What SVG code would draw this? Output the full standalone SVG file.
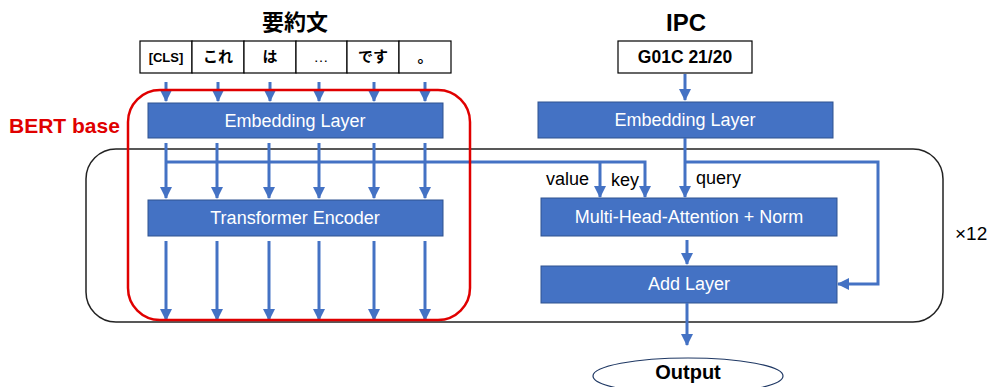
<svg xmlns="http://www.w3.org/2000/svg" width="991" height="387" viewBox="0 0 991 387">
<style>
.blk{fill:#4472C4;stroke:#2F528F;stroke-width:1}
.bt{font-family:"Liberation Sans",Arial,sans-serif;font-size:18px;fill:#fff;text-anchor:middle}
.ln{fill:none;stroke:#4472C4;stroke-width:3}
.tok{fill:#fff;stroke:#000;stroke-width:1.2}
.tt{font-family:"Liberation Sans","Noto Sans CJK JP",sans-serif;font-size:15px;font-weight:bold;fill:#000;text-anchor:middle}
.title{font-family:"Liberation Sans","Noto Sans CJK JP",sans-serif;font-size:22px;font-weight:bold;fill:#000;text-anchor:middle}
.lbl{font-family:"Liberation Sans",Arial,sans-serif;font-size:18px;fill:#000}
</style>
<defs>
<marker id="ah" markerUnits="userSpaceOnUse" markerWidth="12" markerHeight="12" viewBox="0 0 12 12" refX="11" refY="6" orient="auto">
<path d="M0,0 L12,6 L0,12 z" fill="#4472C4"/>
</marker>
</defs>

<g id="frame12">
<rect x="86" y="149" width="857" height="173" rx="30" ry="30" fill="none" stroke="#222" stroke-width="1.5"/>
<text class="lbl" x="955" y="240" style="font-size:19px">×12</text>
</g>

<g id="title-summary"><text class="title" x="295" y="30">要約文</text></g>
<g id="title-ipc"><text class="title" x="686" y="31" style="font-size:24px">IPC</text></g>

<g id="tokens">
<rect class="tok" x="140" y="41" width="52" height="32"/>
<rect class="tok" x="192" y="41" width="52" height="32"/>
<rect class="tok" x="244" y="41" width="52" height="32"/>
<rect class="tok" x="296" y="41" width="51" height="32"/>
<rect class="tok" x="347" y="41" width="52" height="32"/>
<rect class="tok" x="399" y="41" width="52" height="32"/>
<text class="tt" x="166" y="62" style="font-size:13px">[CLS]</text>
<text class="tt" x="218" y="62">これ</text>
<text class="tt" x="270" y="62">は</text>
<text class="tt" x="321" y="62" style="font-weight:normal">…</text>
<text class="tt" x="373" y="62">です</text>
<text class="tt" x="425" y="62">。</text>
</g>

<g id="ipc-code">
<rect class="tok" x="618" y="41" width="134" height="32"/>
<text class="tt" x="685" y="63" style="font-size:17.5px">G01C 21/20</text>
</g>

<g id="embed-left">
<rect class="blk" x="148" y="103" width="295" height="35"/>
<text class="bt" x="295" y="127">Embedding Layer</text>
</g>
<g id="encoder">
<rect class="blk" x="148" y="200" width="295" height="36"/>
<text class="bt" x="295" y="224">Transformer Encoder</text>
</g>
<g id="embed-right">
<rect class="blk" x="538" y="102" width="295" height="36"/>
<text class="bt" x="685" y="126">Embedding Layer</text>
</g>
<g id="mha">
<rect class="blk" x="541" y="198" width="296" height="38"/>
<text class="bt" x="689" y="223">Multi-Head-Attention + Norm</text>
</g>
<g id="add">
<rect class="blk" x="541" y="266" width="296" height="37"/>
<text class="bt" x="689" y="290">Add Layer</text>
</g>
<g id="output">
<ellipse cx="688" cy="376" rx="95" ry="18" fill="#fff" stroke="#1F3864" stroke-width="1.2"/>
<text class="title" x="688" y="379" style="font-size:20px">Output</text>
</g>

<g id="connectors">
<path class="ln" marker-end="url(#ah)" d="M166,82 V101"/>
<path class="ln" marker-end="url(#ah)" d="M218,82 V101"/>
<path class="ln" marker-end="url(#ah)" d="M270,82 V101"/>
<path class="ln" marker-end="url(#ah)" d="M319,82 V101"/>
<path class="ln" marker-end="url(#ah)" d="M374,82 V101"/>
<path class="ln" marker-end="url(#ah)" d="M425,82 V101"/>

<path class="ln" marker-end="url(#ah)" d="M166,143 V198"/>
<path class="ln" marker-end="url(#ah)" d="M217,143 V198"/>
<path class="ln" marker-end="url(#ah)" d="M269,143 V198"/>
<path class="ln" marker-end="url(#ah)" d="M319,143 V198"/>
<path class="ln" marker-end="url(#ah)" d="M374,143 V198"/>
<path class="ln" marker-end="url(#ah)" d="M425,143 V198"/>

<path class="ln" marker-end="url(#ah)" d="M166,241 V320"/>
<path class="ln" marker-end="url(#ah)" d="M217,241 V320"/>
<path class="ln" marker-end="url(#ah)" d="M269,241 V320"/>
<path class="ln" marker-end="url(#ah)" d="M319,241 V320"/>
<path class="ln" marker-end="url(#ah)" d="M374,241 V320"/>
<path class="ln" marker-end="url(#ah)" d="M425,241 V320"/>

<path class="ln" marker-end="url(#ah)" d="M166,162 H645 V197"/>
<path class="ln" marker-end="url(#ah)" d="M600,162 V197"/>
<path class="ln" marker-end="url(#ah)" d="M685,74 V100"/>
<path class="ln" marker-end="url(#ah)" d="M685,138 V197"/>
<path class="ln" marker-end="url(#ah)" d="M685,162 H878 V284 H838"/>
<path class="ln" marker-end="url(#ah)" d="M687,240 V264"/>
<path class="ln" marker-end="url(#ah)" d="M687,303 V345"/>
</g>

<g id="labels">
<text class="lbl" x="546" y="185">value</text>
<text class="lbl" x="611" y="186">key</text>
<text class="lbl" x="696" y="184">query</text>
</g>

<g id="bert">
<rect x="128" y="90" width="342" height="230" rx="32" ry="32" fill="none" stroke="#E00000" stroke-width="2.5"/>
<text x="9" y="133" style="font-family:'Liberation Sans',Arial,sans-serif;font-size:21px;font-weight:bold;fill:#E00000">BERT base</text>
</g>
</svg>
